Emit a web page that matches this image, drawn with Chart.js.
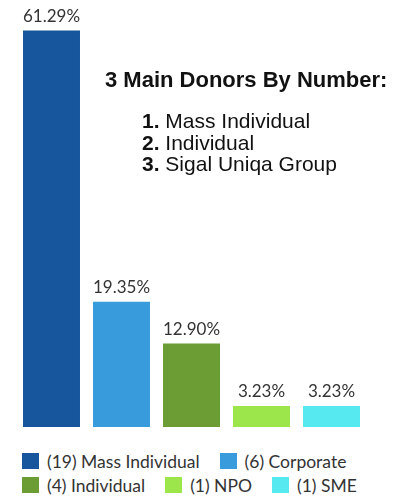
<!DOCTYPE html>
<html>
<head>
<meta charset="utf-8">
<script src="https://cdn.jsdelivr.net/npm/chart.js@4.4.1/dist/chart.umd.min.js"></script>
<style>
  body { margin: 0; background: #fff; width: 407px; height: 497px; overflow: hidden; }
  #donorsChart { display: block; }
  #legend {
    display: flex; flex-wrap: wrap; column-gap: 20px; row-gap: 8px;
    padding: 13px 0 0 22px; width: 375px;
    font-family: Lato, sans-serif; font-size: 17.5px; color: #333;
  }
  .legend-item { display: flex; align-items: center; height: 16px; }
  .legend-box { width: 17px; height: 16px; margin-right: 8px; }
</style>
</head>
<body>
<canvas id="donorsChart" width="407" height="440"></canvas>
<div id="legend"></div>
<script>
const categories = ["Mass Individual", "Corporate", "Individual", "NPO", "SME"];
const donorCounts = [19, 6, 4, 1, 1];
const shares = [61.29, 19.35, 12.90, 3.23, 3.23];
const barColors = ["#17559c", "#389bdc", "#6b9d34", "#9ce64b", "#56e9f0"];

const noteTitle = "3 Main Donors By Number:";
const topDonors = ["Mass Individual", "Individual", "Sigal Uniqa Group"];

// percentage labels above bars + the "main donors" note
const barLabels = {
  id: "barLabels",
  afterDatasetsDraw(chart) {
    const ctx = chart.ctx;
    const meta = chart.getDatasetMeta(0);
    ctx.save();
    ctx.font = "17px Lato";
    ctx.fillStyle = "#333";
    ctx.textAlign = "center";
    ctx.textBaseline = "alphabetic";
    meta.data.forEach((bar, i) => {
      ctx.fillText(shares[i].toFixed(2) + "%", bar.x, bar.y - 9);
    });

    ctx.textAlign = "left";
    ctx.fillStyle = "#111";
    ctx.font = "bold 22px 'Liberation Sans'";
    ctx.fillText(noteTitle, 105, 87);

    topDonors.forEach((name, i) => {
      const y = 128 + i * 21.5;
      const num = (i + 1) + ". ";
      ctx.font = "bold 21px 'Liberation Sans'";
      ctx.fillText(num, 142, y);
      const w = ctx.measureText(num).width;
      ctx.font = "21px 'Liberation Sans'";
      ctx.fillText(name, 142 + w, y);
    });
    ctx.restore();
  }
};

new Chart(document.getElementById("donorsChart"), {
  type: "bar",
  data: {
    labels: categories,
    datasets: [{
      data: shares,
      backgroundColor: barColors,
      barPercentage: 0.814,
      categoryPercentage: 1
    }]
  },
  options: {
    responsive: false,
    animation: false,
    layout: { padding: { left: 16.5, right: 40.5, top: 26, bottom: 13 } },
    plugins: {
      legend: { display: false },
      tooltip: { enabled: false }
    },
    scales: {
      x: { display: false },
      y: { display: false, min: 0, max: 62 }
    }
  },
  plugins: [barLabels]
});

// html legend
const legend = document.getElementById("legend");
categories.forEach((name, i) => {
  const item = document.createElement("div");
  item.className = "legend-item";
  item.innerHTML = '<span class="legend-box" style="background:' + barColors[i] + '"></span>' +
    "(" + donorCounts[i] + ") " + name;
  legend.appendChild(item);
});
</script>
</body>
</html>
